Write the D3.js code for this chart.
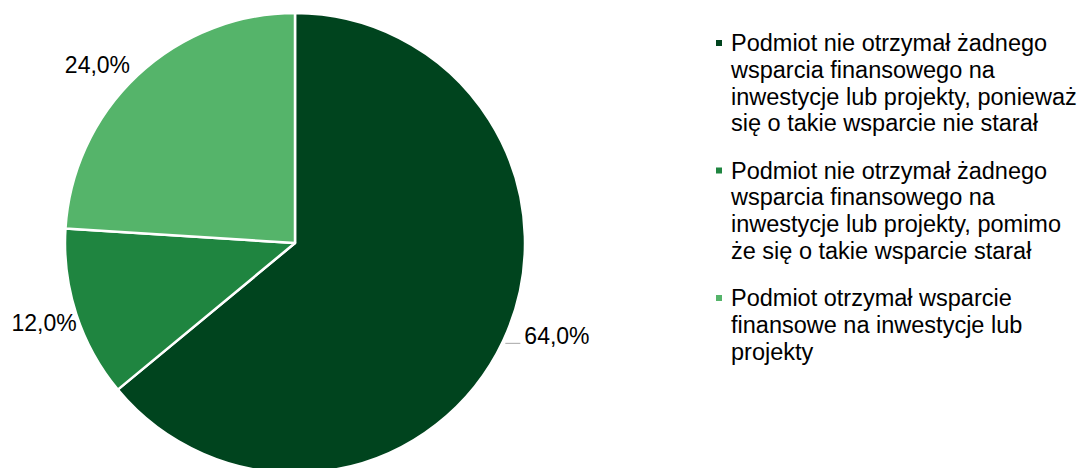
<!DOCTYPE html>
<html><head><meta charset="utf-8">
<script src="https://cdn.jsdelivr.net/npm/d3@7"></script>
<style>body{margin:0;background:#fff}svg{display:block;font-family:"Liberation Sans",Arial,sans-serif}</style>
</head><body><svg id="c" width="1088" height="468"></svg>
<script>
const categories = [
  "Podmiot nie otrzymał żadnego wsparcia finansowego na inwestycje lub projekty, ponieważ się o takie wsparcie nie starał",
  "Podmiot nie otrzymał żadnego wsparcia finansowego na inwestycje lub projekty, pomimo że się o takie wsparcie starał",
  "Podmiot otrzymał wsparcie finansowe na inwestycje lub projekty"
];
const legendLines = [
  ["Podmiot nie otrzymał żadnego", "wsparcia finansowego na", "inwestycje lub projekty, ponieważ", "się o takie wsparcie nie starał"],
  ["Podmiot nie otrzymał żadnego", "wsparcia finansowego na", "inwestycje lub projekty, pomimo", "że się o takie wsparcie starał"],
  ["Podmiot otrzymał wsparcie", "finansowe na inwestycje lub", "projekty"]
];
const values = [64.0, 12.0, 24.0];
const colors = ["#00441e", "#1f8540", "#55b46a"];

const svg = d3.select("#c");
const cx = 295, cy = 243, r = 230;
const pie = d3.pie().sort(null).value(d => d)(values);
const arc = d3.arc().innerRadius(0).outerRadius(r);
const g = svg.append("g").attr("transform", `translate(${cx},${cy})`);
g.selectAll("path").data(pie).join("path")
  .attr("d", arc).attr("fill", (d, i) => colors[i])
  .attr("stroke", "#fff").attr("stroke-width", 2.5).attr("stroke-linejoin", "round");

const fmt = v => v.toFixed(1).replace(".", ",") + "%";
const nudge = [[0, 0], [8, 6], [-2, -5]];
pie.forEach((d, i) => {
  const a = (d.startAngle + d.endAngle) / 2;
  const rr = r + 8;
  let x = rr * Math.sin(a), y = -rr * Math.cos(a);
  const right = Math.sin(a) > 0;
  x += nudge[i][0]; y += nudge[i][1];
  if (right) {
    g.append("line").attr("x1", x - 5).attr("x2", x + 10).attr("y1", y - 1).attr("y2", y - 1)
      .attr("stroke", "#a6a6a6").attr("stroke-width", 1);
    g.append("text").attr("x", x + 14).attr("y", y - 8).attr("dy", "0.35em")
      .attr("font-size", 23).attr("fill", "#000").attr("text-anchor", "start")
      .text(fmt(values[i]));
  } else {
    g.append("text").attr("x", x).attr("y", y).attr("dy", "0.35em")
      .attr("font-size", 23).attr("fill", "#000").attr("text-anchor", "end")
      .text(fmt(values[i]));
  }
});

// legend
const lg = svg.append("g");
const lx = 731, ly0 = 43, lh = 26.7, groupGap = 127.5;
legendLines.forEach((lines, i) => {
  const y0 = ly0 + i * groupGap;
  lg.append("rect").attr("x", lx - 15).attr("y", y0 - 3).attr("width", 6).attr("height", 6)
    .attr("fill", colors[i]);
  const t = lg.append("text").attr("font-size", 23.5).attr("fill", "#000");
  lines.forEach((ln, j) => {
    t.append("tspan").attr("x", lx).attr("y", y0 + j * lh).attr("dy", "0.35em").text(ln);
  });
});
</script></body></html>
